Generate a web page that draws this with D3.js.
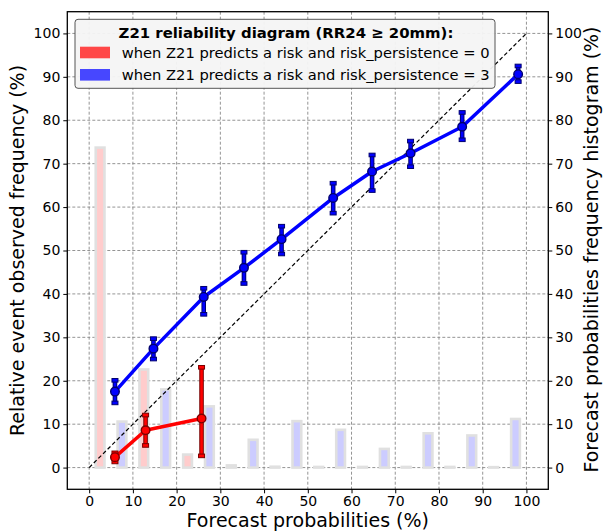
<!DOCTYPE html>
<html>
<head>
<meta charset="utf-8">
<script src="https://cdn.jsdelivr.net/npm/d3@7"></script>
<style>
  body { margin: 0; background: #fff; }
  svg { display: block; font-family: "DejaVu Sans", sans-serif; }
</style>
</head>
<body>
<svg id="chart" width="606" height="531"></svg>
<script>
// ---- Data ----
const xTicks = [0, 10, 20, 30, 40, 50, 60, 70, 80, 90, 100];
const yTicks = [0, 10, 20, 30, 40, 50, 60, 70, 80, 90, 100];

// reliability curve, risk_persistence = 0 (red)
const redX   = [5.9, 12.9, 25.7];
const redY   = [2.4, 8.6, 11.3];
const redLo  = [1.3, 5.1, 2.7];
const redHi  = [3.4, 12.1, 23.1];

// reliability curve, risk_persistence = 3 (blue)
const blueX  = [5.9, 14.7, 26.2, 35.4, 44.0, 55.8, 64.7, 73.5, 85.3, 98.1];
const blueY  = [17.5, 27.4, 39.3, 46.0, 52.6, 62.1, 68.2, 72.4, 78.5, 90.6];
const blueLo = [14.9, 25.0, 35.3, 42.4, 49.2, 58.6, 63.8, 69.3, 75.5, 88.9];
const blueHi = [20.1, 29.7, 41.3, 49.6, 55.6, 65.5, 72.0, 75.2, 81.8, 92.5];

// forecast probability histogram (%)
const redBinX  = [2.5, 12.5, 22.5, 32.5, 42.5, 52.5, 62.5, 72.5, 82.5, 92.5];
const redHist  = [73.7, 22.6, 3.0, 0.5, 0.2, 0.15, 0.15, 0.15, 0.15, 0.1];
const blueBinX = [7.5, 17.5, 27.5, 37.5, 47.5, 57.5, 67.5, 77.5, 87.5, 97.5];
const blueHist = [10.6, 18.0, 14.1, 6.4, 10.7, 8.7, 4.3, 7.9, 7.4, 11.2];

const legendTitle = "Z21 reliability diagram (RR24 \u2265 20mm):";
const legendLabels = [
  "when Z21 predicts a risk and risk_persistence = 0",
  "when Z21 predicts a risk and risk_persistence = 3"
];

// ---- Layout ----
const L = 67.3, R = 548.3, T = 11.7, B = 489.3;
const svg = d3.select("#chart");
const x = d3.scaleLinear().domain([-5, 105]).range([L, R]);
const y = d3.scaleLinear().domain([-5, 105]).range([B, T]);
const yR = d3.scaleLinear().domain([-5, 105]).range([B, T]);

const tickFont = 14;
const labelFont = 19;

// grid
const grid = svg.append("g");
xTicks.forEach(t => grid.append("line")
  .attr("x1", x(t)).attr("x2", x(t)).attr("y1", T).attr("y2", B)
  .attr("stroke", "#888").attr("stroke-width", 0.9).attr("stroke-dasharray", "3,2"));
yTicks.forEach(t => grid.append("line")
  .attr("x1", L).attr("x2", R).attr("y1", y(t)).attr("y2", y(t))
  .attr("stroke", "#888").attr("stroke-width", 0.9).attr("stroke-dasharray", "3,2"));

// histogram bars
const barW = 2.0;
function bars(bx, bh, fill) {
  svg.append("g").selectAll("rect").data(bx.map((d, i) => ({x: d, h: bh[i]})))
    .join("rect")
    .attr("x", d => x(d.x - barW / 2))
    .attr("width", d => x(d.x + barW / 2) - x(d.x - barW / 2))
    .attr("y", d => yR(d.h))
    .attr("height", d => yR(0) - yR(d.h))
    .attr("fill", fill)
    .attr("stroke", "#e0e0e0")
    .attr("stroke-width", 2.6);
}
bars(redBinX, redHist, "#ffcccc");
bars(blueBinX, blueHist, "#ccccff");

// diagonal
svg.append("line")
  .attr("x1", x(0)).attr("y1", y(0)).attr("x2", x(100)).attr("y2", y(100))
  .attr("stroke", "#000").attr("stroke-width", 1.2).attr("stroke-dasharray", "4,2.5");

// reliability curves
function curve(xs, ys, lo, hi, color, dark) {
  const g = svg.append("g");
  const pts = xs.map((d, i) => ({x: d, y: ys[i], lo: lo[i], hi: hi[i]}));
  g.append("path").datum(pts)
    .attr("d", d3.line().x(d => x(d.x)).y(d => y(d.y)))
    .attr("fill", "none").attr("stroke", color).attr("stroke-width", 3.5)
    .attr("stroke-linejoin", "round");
  pts.forEach(p => {
    g.append("line").attr("x1", x(p.x)).attr("x2", x(p.x))
      .attr("y1", y(p.lo)).attr("y2", y(p.hi))
      .attr("stroke", dark).attr("stroke-width", 4.6);
    g.append("line").attr("x1", x(p.x)).attr("x2", x(p.x))
      .attr("y1", y(p.lo)).attr("y2", y(p.hi))
      .attr("stroke", color).attr("stroke-width", 2.6);
    [p.lo, p.hi].forEach(v => g.append("rect")
      .attr("x", x(p.x) - 3).attr("y", y(v) - 1.8).attr("width", 6).attr("height", 3.6)
      .attr("fill", color).attr("stroke", dark).attr("stroke-width", 1));
    g.append("circle").attr("cx", x(p.x)).attr("cy", y(p.y)).attr("r", 4.3)
      .attr("fill", color).attr("stroke", dark).attr("stroke-width", 1.4);
  });
}
curve(redX, redY, redLo, redHi, "#ff0000", "#7a0000");
curve(blueX, blueY, blueLo, blueHi, "#0000ff", "#00006e");

// spines
svg.append("rect").attr("x", L).attr("y", T).attr("width", R - L).attr("height", B - T)
  .attr("fill", "none").attr("stroke", "#000").attr("stroke-width", 1.3);

// axes
const axB = svg.append("g").attr("transform", `translate(0,${B})`)
  .call(d3.axisBottom(x).tickValues(xTicks).tickSize(4).tickPadding(3));
const axL = svg.append("g").attr("transform", `translate(${L},0)`)
  .call(d3.axisLeft(y).tickValues(yTicks).tickSize(4).tickPadding(3));
const axR = svg.append("g").attr("transform", `translate(${R},0)`)
  .call(d3.axisRight(yR).tickValues(yTicks).tickSize(4).tickPadding(3));
[axB, axL, axR].forEach(a => {
  a.select(".domain").remove();
  a.selectAll("text").attr("font-size", tickFont).attr("font-family", "DejaVu Sans").attr("fill", "#000");
  a.selectAll("line").attr("stroke", "#000");
});

// axis labels
svg.append("text").attr("x", (L + R) / 2).attr("y", 527)
  .attr("text-anchor", "middle").attr("font-size", labelFont).text("Forecast probabilities (%)");
svg.append("text").attr("transform", `translate(24,${(T + B) / 2}) rotate(-90)`)
  .attr("text-anchor", "middle").attr("font-size", labelFont).text("Relative event observed frequency (%)");
svg.append("text").attr("transform", `translate(598,${(T + B) / 2 - 1}) rotate(-90)`)
  .attr("text-anchor", "middle").attr("font-size", labelFont).text("Forecast probabilities frequency histogram (%)");

// legend
const lg = svg.append("g");
lg.append("rect").attr("x", 75).attr("y", 19.3).attr("width", 420).attr("height", 69)
  .attr("rx", 3).attr("fill", "#f4f4f4").attr("fill-opacity", 0.95)
  .attr("stroke", "#555").attr("stroke-width", 1);
lg.append("text").attr("x", 286).attr("y", 38).attr("text-anchor", "middle")
  .attr("font-size", 14.9).attr("font-weight", "bold").text(legendTitle);
const swatch = ["#ff4747", "#4747ff"];
legendLabels.forEach((t, i) => {
  lg.append("rect").attr("x", 80).attr("y", 46.7 + i * 22.3).attr("width", 30).attr("height", 11.6)
    .attr("fill", swatch[i]);
  lg.append("text").attr("x", 121.7).attr("y", 57.8 + i * 22.3)
    .attr("font-size", 14.7).text(t);
});
</script>
</body>
</html>
